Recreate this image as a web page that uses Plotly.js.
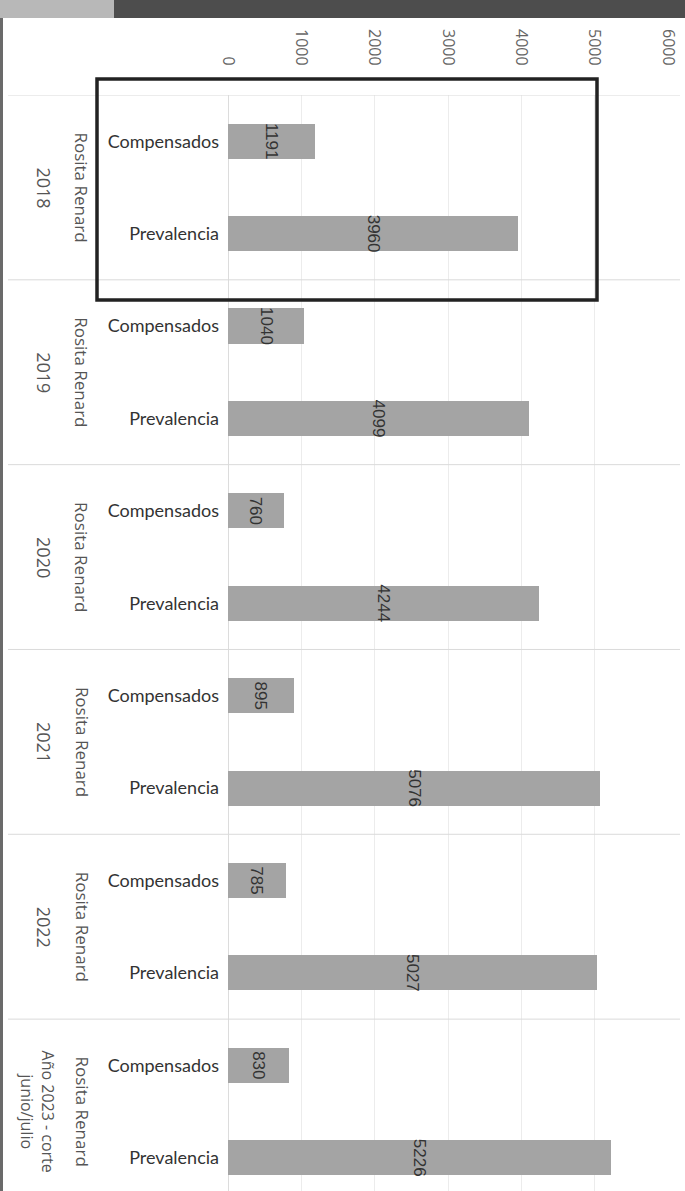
<!DOCTYPE html>
<html>
<head>
<meta charset="utf-8">
<script src="https://cdn.plot.ly/plotly-3.0.1.min.js"></script>
<style>
  html, body { margin: 0; padding: 0; background: #ffffff; }
  #chart { width: 685px; height: 1191px; }
</style>
</head>
<body>
<div id="chart"></div>
<script>
// ---- data ----
const groups = ["2018", "2019", "2020", "2021", "2022", "Año 2023 - corte<br>junio/julio"];
const place = "Rosita Renard";
const measures = ["Compensados", "Prevalencia"];
const compensados = [1191, 1040, 760, 895, 785, 830];
const prevalencia = [3960, 4099, 4244, 5076, 5027, 5226];
const xTicks = [0, 1000, 2000, 3000, 4000, 5000, 6000];

// ---- build bar arrays ----
const yKeys = [], yText = [], xVals = [];
groups.forEach((g, i) => {
  yKeys.push(i + "|" + measures[0]); yText.push(measures[0]); xVals.push(compensados[i]);
  yKeys.push(i + "|" + measures[1]); yText.push(measures[1]); xVals.push(prevalencia[i]);
});

const trace = {
  type: "bar",
  orientation: "h",
  x: xVals,
  y: yKeys,
  width: 0.38,
  marker: { color: "#a4a4a4", line: { width: 0 } },
  text: xVals.map(String),
  textposition: "inside",
  insidetextanchor: "middle",
  textangle: 90,
  constraintext: "none",
  textfont: { family: "Liberation Sans, Arial, sans-serif", size: 17, color: "#333333" },
  hoverinfo: "x+y"
};

// geometry helpers (pixel layout)
const L = 228, R = 17, T = 95, W = 685, H = 1191;
const pw = W - L - R, ph = H - T;
const px = p => (p - L) / pw;          // pixel x -> paper x
const py = p => (H - p) / ph;          // pixel y -> paper y

const annotations = [];
groups.forEach((g, i) => {
  const yc = 2 * i + 0.5;
  annotations.push({
    xref: "paper", yref: "y", x: px(82), y: yc, text: place, showarrow: false,
    textangle: 90, xanchor: "center", yanchor: "middle",
    font: { family: "Open Sans, sans-serif", size: 17, color: "#555555" }
  });
  const isLast = i === groups.length - 1;
  annotations.push({
    xref: "paper", yref: "y", x: px(isLast ? 37 : 44), y: yc, text: g, showarrow: false,
    textangle: 90, xanchor: "center", yanchor: "middle",
    font: { family: "Open Sans, sans-serif", size: isLast ? 16 : 18, color: "#555555" }
  });
});

const shapes = [];
// group separator lines
[-0.5, 1.5, 3.5, 5.5, 7.5, 9.5].forEach(v => {
  shapes.push({ type: "line", xref: "paper", yref: "y", x0: px(8), x1: px(680), y0: v, y1: v,
    line: { color: "#dadada", width: 1 } });
});
// highlight box around 2018
shapes.push({ type: "rect", xref: "paper", yref: "paper", x0: px(97), x1: px(597), y0: py(300), y1: py(79),
  line: { color: "#222222", width: 3.5 }, fillcolor: "rgba(0,0,0,0)" });
// scan artefacts: top band and left edge
shapes.push({ type: "rect", xref: "paper", yref: "paper", x0: px(0), x1: px(114), y0: py(18), y1: py(0),
  line: { width: 0 }, fillcolor: "#b8b8b8" });
shapes.push({ type: "rect", xref: "paper", yref: "paper", x0: px(114), x1: px(685), y0: py(18), y1: py(0),
  line: { width: 0 }, fillcolor: "#4d4d4d" });
shapes.push({ type: "rect", xref: "paper", yref: "paper", x0: px(0), x1: px(3), y0: py(1191), y1: py(18),
  line: { width: 0 }, fillcolor: "#6a6a6a" });

const layout = {
  width: W, height: H,
  margin: { l: L, r: R, t: T, b: 0, pad: 0 },
  paper_bgcolor: "#ffffff",
  plot_bgcolor: "#ffffff",
  showlegend: false,
  bargap: 0,
  xaxis: {
    side: "top",
    range: [0, 6000],
    tickmode: "array",
    tickvals: xTicks,
    ticktext: xTicks.map(String),
    tickangle: 90,
    ticks: "",
    ticklabelstandoff: 26,
    tickfont: { family: "Open Sans, sans-serif", size: 16, color: "#666666" },
    showgrid: true,
    gridcolor: "#ececec",
    gridwidth: 1,
    zeroline: true,
    zerolinecolor: "#dcdcdc",
    zerolinewidth: 1,
    showline: false,
    fixedrange: true
  },
  yaxis: {
    type: "category",
    categoryorder: "array",
    categoryarray: yKeys,
    tickmode: "array",
    tickvals: yKeys,
    ticktext: yText,
    range: [11.36, -0.5],
    ticks: "",
    ticklabelstandoff: 8,
    tickfont: { family: "Lato, Open Sans, sans-serif", size: 18, color: "#333333" },
    showgrid: false,
    zeroline: false,
    showline: false,
    fixedrange: true
  },
  annotations: annotations,
  shapes: shapes
};

Plotly.newPlot("chart", [trace], layout, { displayModeBar: false, staticPlot: true });
</script>
</body>
</html>
